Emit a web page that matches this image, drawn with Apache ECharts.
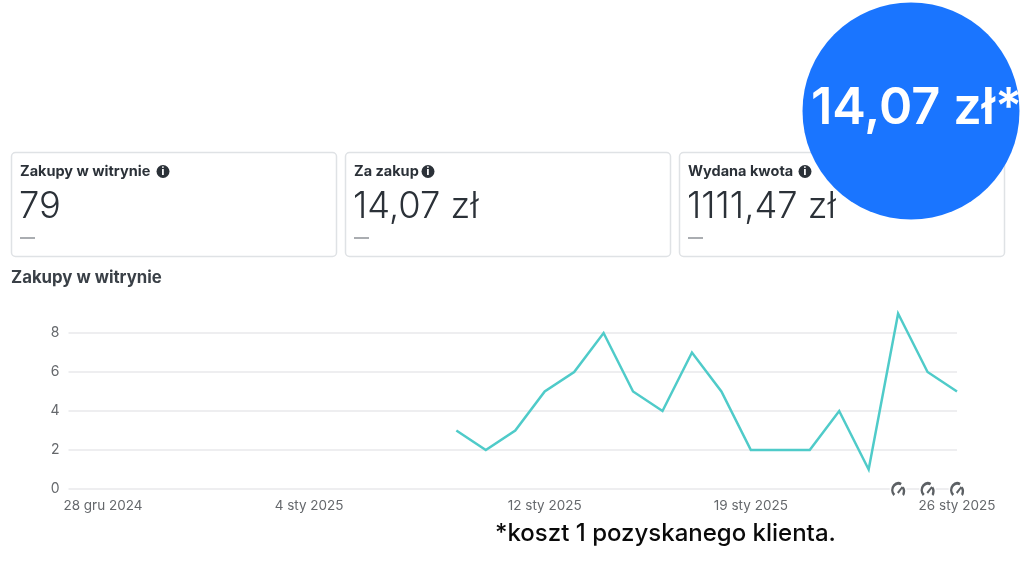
<!DOCTYPE html>
<html>
<head>
<meta charset="utf-8">
<title>Zakupy w witrynie</title>
<script src="https://cdn.jsdelivr.net/npm/echarts@6/dist/echarts.min.js"></script>
<style>
    html, body { margin: 0; padding: 0; background: #fff; }
    #chart { width: 1024px; height: 577px; }
</style>
</head>
<body>
<div id="chart"></div>
<script>
// Chart data
var DATES = ['2025-01-09', '2025-01-10', '2025-01-11', '2025-01-12', '2025-01-13', '2025-01-14',
    '2025-01-15', '2025-01-16', '2025-01-17', '2025-01-18', '2025-01-19', '2025-01-20',
    '2025-01-21', '2025-01-22', '2025-01-23', '2025-01-24', '2025-01-25', '2025-01-26'];
var PURCHASES = [3, 2, 3, 5, 6, 8, 5, 4, 7, 5, 2, 2, 2, 4, 1, 9, 6, 5];
var TICK_DATES = ['2024-12-28', '2025-01-04', '2025-01-12', '2025-01-19', '2025-01-26'];
var TICK_LABELS = ['28 gru 2024', '4 sty 2025', '12 sty 2025', '19 sty 2025', '26 sty 2025'];
var ICON_DATES = ['2025-01-24', '2025-01-25', '2025-01-26'];

// KPI cards
var CARD_TITLES = ['Zakupy w witrynie', 'Za zakup', 'Wydana kwota'];
var CARD_VALUES = ['79', '14,07 zł', '1111,47 zł'];

var FONT = 'Inter, "Noto Sans", sans-serif';
var TEXT_DARK = '#2b3138';
var GAUGE_ICON = 'path://M2.3 13.7A8 8 0 0 1 11.5 .8L10.2 3.2A5.2 5.2 0 0 0 4.3 11.7ZM6.3 10 11.6 4 13 5.2 8 11.4ZM13.6 4.4A8 8 0 0 1 13.7 13.7L12 12A5.6 5.6 0 0 0 11.9 6.2Z';

function ms(d) {
    return new Date(d + 'T00:00:00Z').getTime();
}

function toPairs(dates, values) {
    return dates.map(function(d, i) {
        return [ms(d), values[i]];
    });
}

function tickLabel(value) {
    for (var i = 0; i < TICK_DATES.length; i++) {
        if (ms(TICK_DATES[i]) === value) return TICK_LABELS[i];
    }
    return '';
}

/**
 * Card frame, title, info icon, value and dash
 */
function buildCard(i, infoX) {
    var left = 11 + i * 334;
    return [
        { type: 'rect', z: 1, shape: { x: left + 0.5, y: 152.5, width: 325, height: 104, r: 4 },
            style: { fill: '#fff', stroke: '#dfe2e5', lineWidth: 1.5 } },
        { type: 'text', z: 2, x: left + 9, y: 172,
            style: { text: CARD_TITLES[i], font: '700 14.5px ' + FONT, fill: TEXT_DARK, verticalAlign: 'middle' } },
        { type: 'circle', z: 2, shape: { cx: left + infoX, cy: 171.5, r: 6.5 }, style: { fill: '#2b3138' } },
        { type: 'text', z: 3, x: left + infoX, y: 172,
            style: { text: 'i', font: '800 10px ' + FONT, fill: '#fff', align: 'center', verticalAlign: 'middle' } },
        { type: 'text', z: 2, x: left + 8, y: 207,
            style: { text: CARD_VALUES[i], font: '300 36.3px ' + FONT, fill: TEXT_DARK, verticalAlign: 'middle' } },
        { type: 'rect', z: 2, shape: { x: left + 9, y: 237.5, width: 15, height: 1 }, style: { fill: '#555b62' } }
    ];
}

var graphics = []
    .concat(buildCard(0, 152))
    .concat(buildCard(1, 83))
    .concat(buildCard(2, 126))
    .concat([
        { type: 'text', x: 11, y: 277.5,
            style: { text: 'Zakupy w witrynie', font: '700 16.8px ' + FONT, fill: '#3a4047', verticalAlign: 'middle' } },
        { type: 'circle', z: 10, shape: { cx: 911, cy: 111, r: 108.5 }, style: { fill: '#1a75ff' } },
        { type: 'text', z: 11, x: 811, y: 108.5,
            style: { text: '14,07 zł*', font: '600 50.5px ' + FONT, fill: '#fff', verticalAlign: 'middle' } },
        { type: 'text', x: 495, y: 534,
            style: { text: '*koszt 1 pozyskanego klienta.', font: '500 24px ' + FONT, fill: '#0a0a0a', verticalAlign: 'middle' } }
    ]);

var chart = echarts.init(document.getElementById('chart'), null, { renderer: 'canvas' });

chart.setOption({
    animation: false,
    backgroundColor: '#fff',
    grid: { left: 68.5, right: 67, top: 313.5, height: 175.5, containLabel: false },
    xAxis: {
        type: 'value',
        min: ms('2024-12-28') - 1.17 * 86400000,
        max: ms('2025-01-26'),
        axisLine: { show: false },
        axisTick: { show: false },
        splitLine: { show: false },
        axisLabel: {
            customValues: TICK_DATES.map(ms),
            formatter: tickLabel,
            hideOverlap: false,
            showMinLabel: true,
            showMaxLabel: true,
            margin: 10,
            color: '#65686c',
            fontFamily: FONT,
            fontSize: 13.5
        }
    },
    yAxis: {
        type: 'value',
        min: 0,
        max: 9,
        interval: 2,
        axisLine: { show: false },
        axisTick: { show: false },
        splitLine: { showMaxLine: false, lineStyle: { color: '#e8e9eb', width: 1.5 } },
        axisLabel: { showMaxLabel: false, margin: 9, color: '#65686c', fontFamily: FONT, fontSize: 14 }
    },
    series: [
        {
            type: 'line',
            data: toPairs(DATES, PURCHASES),
            showSymbol: false,
            clip: false,
            lineStyle: { color: '#4fcbc9', width: 2.5, join: 'miter' }
        },
        {
            // White patch under the icons, breaks the zero gridline
            type: 'scatter',
            data: ICON_DATES.map(function(d) { return [ms(d), 0]; }),
            symbol: 'circle',
            symbolSize: 17,
            clip: false,
            itemStyle: { color: '#fff' },
            z: 3
        },
        {
            type: 'scatter',
            data: ICON_DATES.map(function(d) { return [ms(d), 0]; }),
            symbol: GAUGE_ICON,
            symbolSize: 14,
            clip: false,
            itemStyle: { color: '#33383d' },
            z: 4
        }
    ],
    graphic: { elements: graphics }
});
</script>
</body>
</html>
